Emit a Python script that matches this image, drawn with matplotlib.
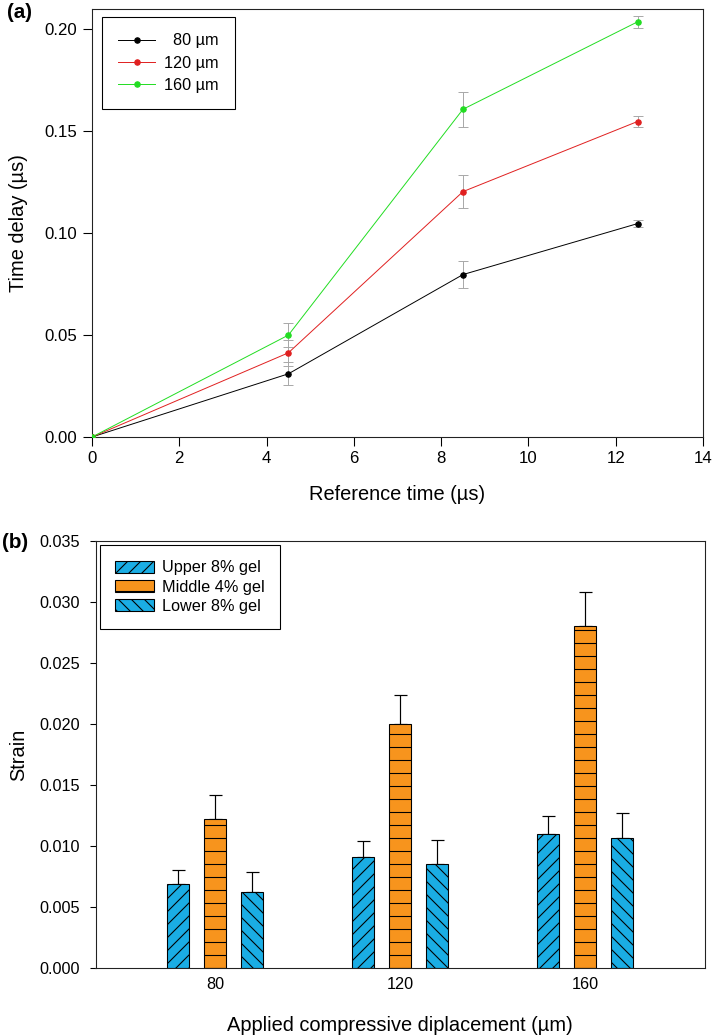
import numpy as np
import matplotlib
matplotlib.use("Agg")
import matplotlib.pyplot as plt
from matplotlib.ticker import FormatStrFormatter

plt.rcParams['font.family'] = ['Liberation Sans', 'DejaVu Sans']
plt.rcParams['hatch.linewidth'] = 1.0

# panel (a) data
ref_time = [0, 4.5, 8.5, 12.5]
delay_80 = [0, 0.031, 0.0797, 0.1047]
err_80 = [0, 0.0056, 0.0065, 0.0019]
delay_120 = [0, 0.0413, 0.1204, 0.1548]
err_120 = [0, 0.0064, 0.0080, 0.0027]
delay_160 = [0, 0.0500, 0.1608, 0.2037]
err_160 = [0, 0.0060, 0.0086, 0.0030]
series_labels = ['  80 \u00b5m', '120 \u00b5m', '160 \u00b5m']
series_colors = ['black', '#e02020', '#22dd22']

# panel (b) data
displacements = ['80', '120', '160']
upper_gel = [0.00686, 0.00912, 0.01098]
upper_err = [0.00117, 0.0013, 0.0015]
middle_gel = [0.01224, 0.01998, 0.02806]
middle_err = [0.0019, 0.0024, 0.0028]
lower_gel = [0.0062, 0.00852, 0.01063]
lower_err = [0.0017, 0.0020, 0.0021]
gel_labels = ['Upper 8% gel', 'Middle 4% gel', 'Lower 8% gel']

dpi = 78
fig = plt.figure(figsize=(712 / dpi, 1035 / dpi), dpi=dpi)
ax1 = fig.add_axes([92 / 712, 1 - 437 / 1035, 611 / 712, 428 / 1035])
ax2 = fig.add_axes([95.5 / 712, 1 - 968 / 1035, 609.5 / 712, 427 / 1035])

tick_fs = 15
label_fs = 18.5

# (a) time delay
for y, e, c, lab in zip([delay_80, delay_120, delay_160],
                        [err_80, err_120, err_160],
                        series_colors, series_labels):
    ax1.errorbar(ref_time, y, yerr=e, fmt='none', ecolor='#a8a8a8',
                 elinewidth=0.9, capsize=4.5, capthick=0.9, zorder=2)
    ax1.plot(ref_time, y, '-o', color=c, lw=0.9, ms=5, label=lab, zorder=3)

ax1.set_xlim(0, 14)
ax1.set_ylim(0, 0.21)
ax1.set_xticks(np.arange(0, 15, 2))
ax1.set_yticks([0, 0.05, 0.10, 0.15, 0.20])
ax1.yaxis.set_major_formatter(FormatStrFormatter('%.2f'))
ax1.set_xlabel('Reference time (\u00b5s)', fontsize=label_fs)
ax1.set_ylabel('Time delay (\u00b5s)', fontsize=label_fs)
ax1.xaxis.set_label_coords(0.5, -0.112)
ax1.yaxis.set_label_coords(-0.105, 0.5)
leg1 = ax1.legend(loc='upper left', bbox_to_anchor=(0.016, 0.981), borderaxespad=0,
                  fontsize=tick_fs, fancybox=False, edgecolor='black', framealpha=1,
                  handlelength=2.3, labelspacing=0.45, borderpad=1.0, handletextpad=0.55)
leg1.get_frame().set_linewidth(1.0)

# (b) strain bars
x = np.arange(len(displacements))
w = 0.119
off = 0.2
blue = '#1aade4'
orange = '#f7941d'
for vals, errs, dx, col, hatch, lab in [
        (upper_gel, upper_err, -off, blue, '//', gel_labels[0]),
        (middle_gel, middle_err, 0, orange, '-', gel_labels[1]),
        (lower_gel, lower_err, off, blue, '\\\\', gel_labels[2])]:
    ax2.bar(x + dx, vals, w, color=col, edgecolor='black', linewidth=1.0,
            hatch=hatch, label=lab, zorder=2)
    ax2.errorbar(x + dx, vals, yerr=[np.zeros(len(vals)), errs], fmt='none',
                 ecolor='black', elinewidth=1.1, capsize=6, capthick=1.1, zorder=1)

ax2.set_xlim(-0.648, 2.647)
ax2.set_ylim(0, 0.035)
ax2.set_xticks(x)
ax2.set_xticklabels(displacements)
ax2.set_yticks(np.arange(0, 0.0351, 0.005))
ax2.yaxis.set_major_formatter(FormatStrFormatter('%.3f'))
ax2.set_xlabel('Applied compressive diplacement (\u00b5m)', fontsize=label_fs)
ax2.set_ylabel('Strain', fontsize=label_fs)
ax2.xaxis.set_label_coords(0.5, -0.112)
ax2.yaxis.set_label_coords(-0.111, 0.5)
leg2 = ax2.legend(loc='upper left', bbox_to_anchor=(0.0074, 0.9906), borderaxespad=0,
                  fontsize=tick_fs, fancybox=False, edgecolor='black', framealpha=1,
                  handlelength=2.35, handleheight=0.72, labelspacing=0.25,
                  borderpad=0.95, handletextpad=0.5)
leg2.get_frame().set_linewidth(1.0)

for ax in (ax1, ax2):
    for sp in ax.spines.values():
        sp.set_linewidth(1.0)
        sp.set_color('#222222')
    ax.tick_params(direction='out', width=1.0, labelsize=tick_fs)
ax1.tick_params(axis='both', length=8)
ax1.tick_params(axis='y', pad=5.5)
ax1.tick_params(axis='x', pad=5)
ax1.tick_params(labelsize=15.5)
ax2.tick_params(axis='y', length=6, pad=8)
ax2.tick_params(axis='x', length=0, pad=8)

fig.text(7 / 712, 1 - 13 / 1035, '(a)', fontsize=19, fontweight='bold', va='center', ha='left')
fig.text(2 / 712, 1 - 543 / 1035, '(b)', fontsize=19, fontweight='bold', va='center', ha='left')

fig.savefig('out.png', dpi=dpi)
